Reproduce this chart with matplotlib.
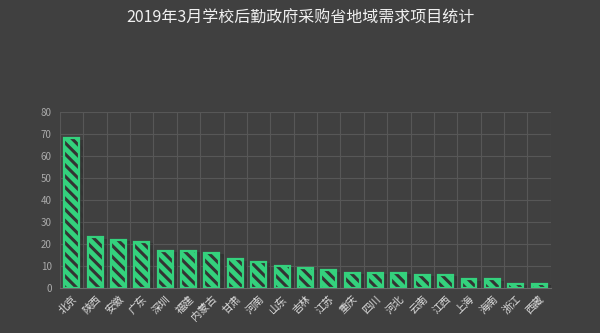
import matplotlib
matplotlib.use("Agg")
import matplotlib.pyplot as plt
import matplotlib.patheffects as pe
import numpy as np

plt.rcParams['font.family'] = ['Noto Sans CJK SC', 'DejaVu Sans']
plt.rcParams['hatch.linewidth'] = 2.2

provinces = ['北京', '陕西', '安徽', '广东', '深圳', '福建', '内蒙古', '甘肃', '河南', '山东', '吉林',
             '江苏', '重庆', '四川', '河北', '云南', '江西', '上海', '海南', '浙江', '西藏']
counts = [68, 23, 22, 21, 17, 17, 16, 13, 12, 10, 9, 8, 7, 7, 7, 6, 6, 4, 4, 2, 2]
title = '2019年3月学校后勤政府采购省地域需求项目统计'

BG = '#404040'
GREEN = '#34d17d'

fig = plt.figure(figsize=(6, 3.33), dpi=100, facecolor=BG)
ax = fig.add_axes([0.1, 0.135, 0.818, 0.529])
ax.set_facecolor(BG)

x = np.arange(len(provinces))
# fill with hatch stripes, then green outline on top
ax.bar(x, counts, width=0.64, color=GREEN, edgecolor='#333333', hatch='\\\\\\', linewidth=0, zorder=3,
       path_effects=[pe.SimplePatchShadow(offset=(3, -1), shadow_rgbFace='#252525', alpha=0.35), pe.Normal()])
ax.bar(x, counts, width=0.64, fill=False, edgecolor=GREEN, linewidth=1.6, zorder=4)

ax.set_xlim(-0.5, len(provinces) - 0.5)
ax.set_ylim(0, 80)
ax.set_yticks(range(0, 81, 10))
ax.set_xticks(x)
ax.set_xticklabels(provinces, rotation=45, ha='right', rotation_mode='anchor',
                   fontsize=7.5, color='#e0e0e0')
ax.tick_params(axis='y', colors='#aaaaaa', labelsize=7, length=0, pad=6)
ax.tick_params(axis='x', length=0, pad=4)

# grid: horizontal at ticks, vertical at category boundaries
ax.set_xticks(np.arange(-0.5, len(provinces)), minor=True)
ax.tick_params(axis='x', which='minor', length=0)
ax.grid(True, axis='y', color='#575757', linewidth=0.8, zorder=0)
ax.grid(True, axis='x', which='minor', color='#575757', linewidth=0.8, zorder=0)
ax.grid(False, axis='x', which='major')

for s in ['top', 'right', 'left']:
    ax.spines[s].set_visible(False)
ax.spines['bottom'].set_color('#6a6a6a')

fig.text(0.5, 0.945, title, ha='center', va='center', fontsize=11.5, color='#f0f0f0')

fig.savefig('out.png', dpi=100, facecolor=BG)
